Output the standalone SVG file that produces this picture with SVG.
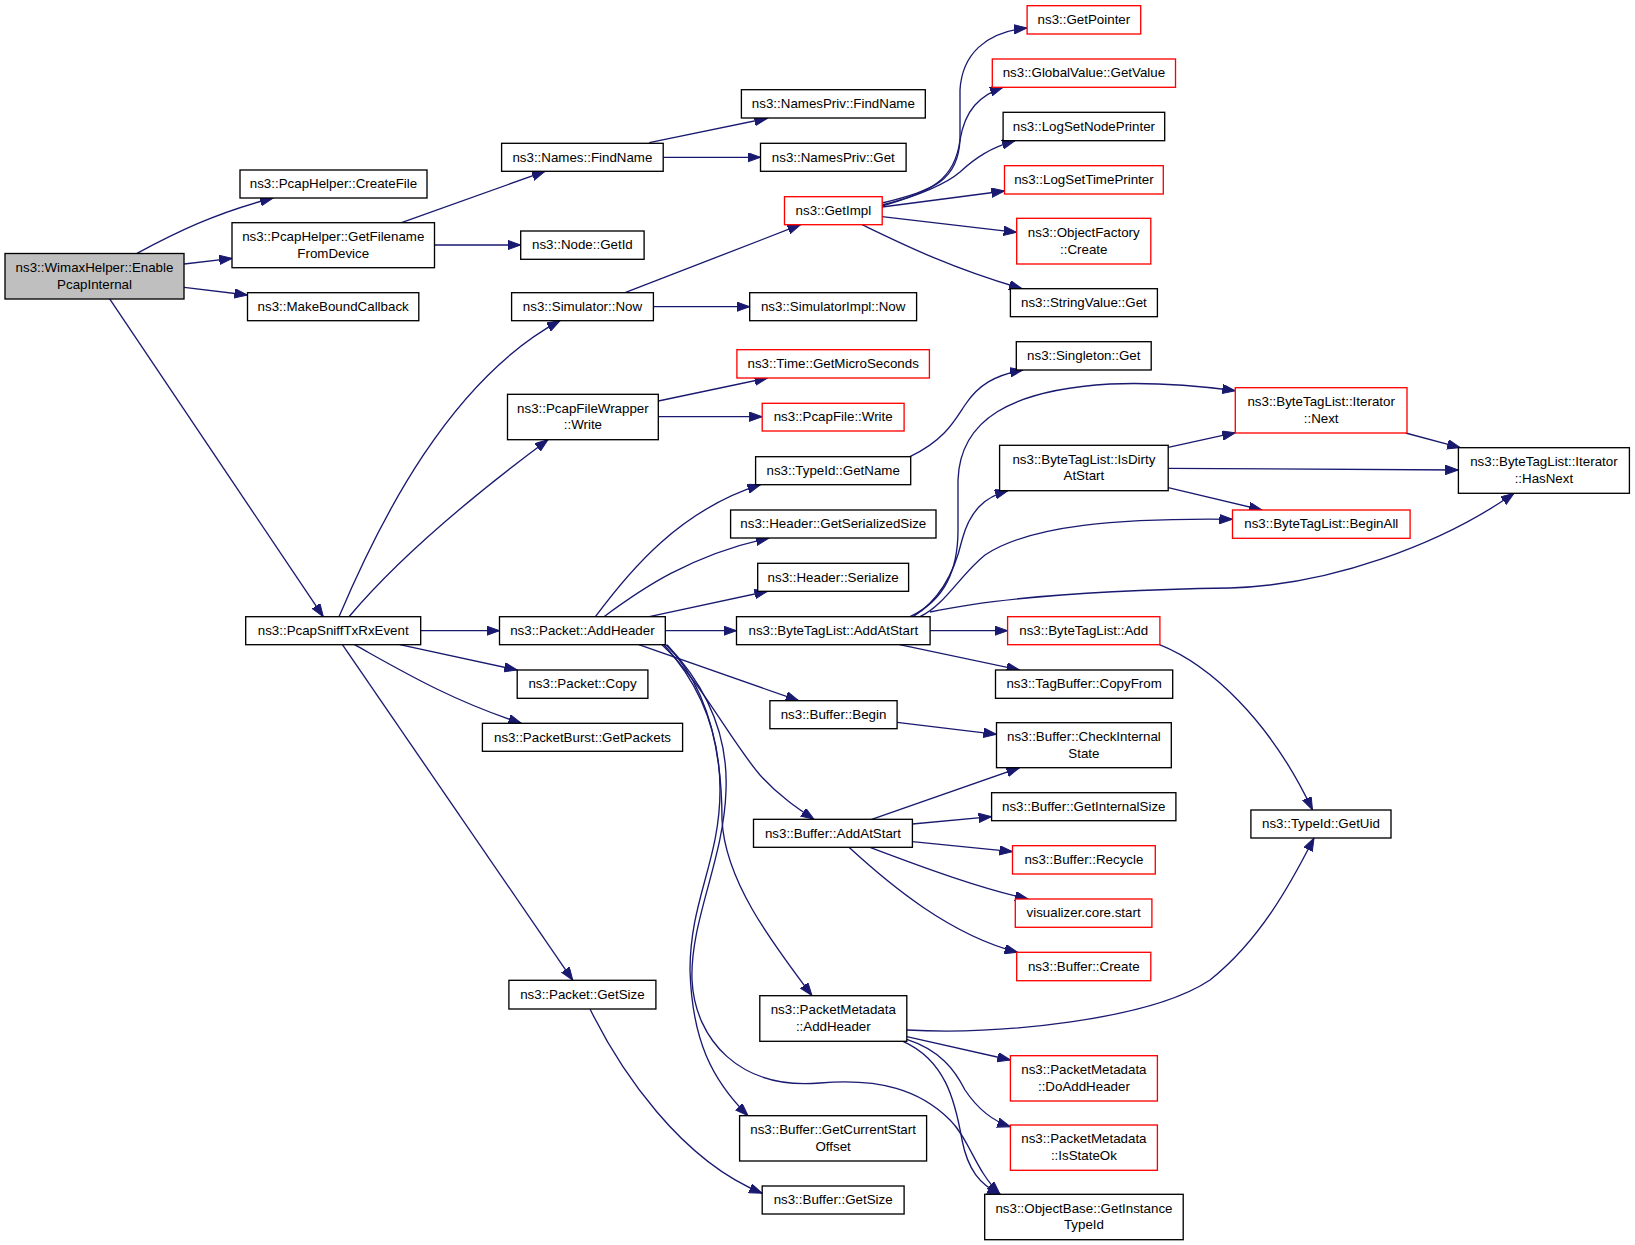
<svg xmlns="http://www.w3.org/2000/svg" width="1635" height="1245" viewBox="0 0 1635 1245">
<style>
.node rect{fill:#ffffff;stroke:#000000;stroke-width:1.33}
.red rect{stroke:#ff0000}
.root rect{fill:#bfbfbf}
text{font-family:"Liberation Sans",Arial,Helvetica,sans-serif;font-size:13.33px;text-anchor:middle;fill:#000000}
.edges path{fill:none;stroke:#191970;stroke-width:1.33;marker-end:url(#ah)}
</style>
<defs>
<marker id="ah" markerUnits="userSpaceOnUse" markerWidth="14" markerHeight="10" refX="13" refY="4.7" orient="auto">
<path d="M0,0 L13,4.7 L0,9.4 z" fill="#191970" stroke="#191970" stroke-width="1"/>
</marker>
</defs>
<rect x="0" y="0" width="1635" height="1245" fill="#ffffff"/>
<g class="edges">
<path d="M137,253.3 C175,233 215,213 273,198"/>
<path d="M184.2,264 L232.2,258.3"/>
<path d="M184.2,287.3 L247.5,295"/>
<path d="M109.5,298.7 L323.3,616.7"/>
<path d="M401.5,222.7 L545,171.3"/>
<path d="M434.5,245 L520.7,245"/>
<path d="M649.3,142.7 L767.5,118.3"/>
<path d="M663.2,157.3 L760.5,157.3"/>
<path d="M625,292.7 L800.5,224.7"/>
<path d="M653.4,306.7 L749.7,306.7"/>
<path d="M882,203 C935,190 958,180 960,140 L960,90 C962,55 985,32 1027,28"/>
<path d="M882,205 C930,193 955,180 960,140 C965,110 980,95 1003,87.3"/>
<path d="M882,206 C920,195 945,185 960,172 C975,158 990,148 1015,140.7"/>
<path d="M882,207 L1004.5,191"/>
<path d="M882,216.7 L1016.7,232.3"/>
<path d="M862,224.7 C900,243 950,268 1022,288.7"/>
<path d="M339,616.7 C380,520 450,380 560,320.7"/>
<path d="M349,616.7 C380,580 440,520 548,439.7"/>
<path d="M658.3,401 L767.5,378"/>
<path d="M658.3,416.7 L762.2,416.7"/>
<path d="M420.6,630.7 L499.5,630.7"/>
<path d="M399.7,644.7 L517.2,670"/>
<path d="M354.5,644.7 C400,670 450,700 521.4,723.3"/>
<path d="M342.4,644.7 L572.8,980.3"/>
<path d="M595.4,616.7 C630,570 680,510 760.5,484.7"/>
<path d="M604,616.7 C640,590 690,555 769,538"/>
<path d="M649.3,616.7 L767.5,591.3"/>
<path d="M665.3,630.7 L736.5,630.7"/>
<path d="M638.8,644.7 L798.7,700.7"/>
<path d="M662,644.7 C700,680 730,740 760,775 C780,797 800,810 814,819.3"/>
<path d="M666,644.7 C712,690 722,760 722,820 C725,880 770,940 812,995.7"/>
<path d="M664,644.7 C705,690 720,740 720,790 C720,860 690,900 690,970 C692,1040 712,1080 748,1115.7"/>
<path d="M667,644.7 C710,690 728,740 726,790 C724,860 690,920 692,980 C695,1040 740,1090 820,1083 C880,1078 920,1090 950,1120 C970,1140 975,1170 1000,1194.3"/>
<path d="M913,616.7 C940,600 955,570 962,540 C970,510 985,497 1008,490.7"/>
<path d="M910,616.7 C945,600 958,570 958,530 L958,480 C960,420 1010,390 1110,384 C1160,382 1200,386 1235.3,390.7"/>
<path d="M920,616.7 C945,605 960,575 985,555 C1030,525 1120,518 1232.5,519.3"/>
<path d="M930,612 C1000,597 1100,590 1230,588 C1330,585 1440,545 1514,493.3"/>
<path d="M930.1,630.7 L1007.6,630.7"/>
<path d="M899.5,644.7 L1019.5,670"/>
<path d="M1168.2,447.3 L1235.3,432.7"/>
<path d="M1168.2,468.3 L1458.4,470"/>
<path d="M1168.2,487.7 L1262,510"/>
<path d="M1405.6,433 L1460.2,447.7"/>
<path d="M1159.5,644.7 C1210,665 1270,720 1312.5,810"/>
<path d="M897.1,722.3 L996.5,734.3"/>
<path d="M871.7,819.3 L1019.5,767.7"/>
<path d="M912.4,824 L991.6,816.7"/>
<path d="M912.4,841.7 L1012.5,851.7"/>
<path d="M870,847.3 C930,870 980,888 1028,899"/>
<path d="M849,847.3 C890,885 950,935 1017.7,952.3"/>
<path d="M906.8,1030 C1000,1035 1150,1020 1210,980 C1260,940 1290,885 1314,838"/>
<path d="M906.8,1036.7 L1010.4,1060"/>
<path d="M906.8,1039.3 C940,1050 955,1070 965,1090 C975,1105 990,1120 1010.4,1126.7"/>
<path d="M903,1041.3 C945,1060 955,1100 962,1140 C968,1170 980,1185 1000.3,1194.3"/>
<path d="M590,1009 C620,1070 680,1160 762.2,1193.3"/>
<path d="M910,456.7 C945,440 955,420 965,405 C978,385 995,375 1023,370"/>
</g>
<g id="n0" class="node root"><rect x="5" y="253.5" width="179" height="45.5"/><text x="94.5" y="272">ns3::WimaxHelper::Enable</text><text x="94.5" y="288.6">PcapInternal</text></g>
<g id="n1" class="node"><rect x="240" y="170" width="187" height="28"/><text x="333.5" y="188.2">ns3::PcapHelper::CreateFile</text></g>
<g id="n2" class="node"><rect x="232" y="222.7" width="202.5" height="45"/><text x="333.25" y="241">ns3::PcapHelper::GetFilename</text><text x="333.25" y="257.6">FromDevice</text></g>
<g id="n3" class="node"><rect x="247.5" y="292.7" width="171.3" height="28"/><text x="333.15" y="310.9">ns3::MakeBoundCallback</text></g>
<g id="n4" class="node"><rect x="245.7" y="616.7" width="175" height="28"/><text x="333.2" y="634.9">ns3::PcapSniffTxRxEvent</text></g>
<g id="n5" class="node"><rect x="501.6" y="143.3" width="161.6" height="28"/><text x="582.4" y="161.5">ns3::Names::FindName</text></g>
<g id="n6" class="node"><rect x="520.7" y="231" width="123.4" height="28.3"/><text x="582.4" y="249.4">ns3::Node::GetId</text></g>
<g id="n7" class="node"><rect x="511.6" y="292.7" width="141.8" height="28"/><text x="582.5" y="310.9">ns3::Simulator::Now</text></g>
<g id="n8" class="node"><rect x="507.5" y="394.3" width="150.8" height="45.4"/><text x="582.9" y="412.8">ns3::PcapFileWrapper</text><text x="582.9" y="429.4">::Write</text></g>
<g id="n9" class="node"><rect x="499.5" y="616.7" width="165.8" height="28"/><text x="582.4" y="634.9">ns3::Packet::AddHeader</text></g>
<g id="n10" class="node"><rect x="517.2" y="670" width="130.7" height="28.3"/><text x="582.55" y="688.4">ns3::Packet::Copy</text></g>
<g id="n11" class="node"><rect x="482.4" y="723.3" width="200.2" height="28"/><text x="582.5" y="741.5">ns3::PacketBurst::GetPackets</text></g>
<g id="n12" class="node"><rect x="508.9" y="980.3" width="147" height="28.7"/><text x="582.4" y="998.9">ns3::Packet::GetSize</text></g>
<g id="n13" class="node"><rect x="741.4" y="89.7" width="183.9" height="28.3"/><text x="833.35" y="108">ns3::NamesPriv::FindName</text></g>
<g id="n14" class="node"><rect x="760.5" y="143.3" width="145.6" height="28"/><text x="833.3" y="161.5">ns3::NamesPriv::Get</text></g>
<g id="n15" class="node red"><rect x="784.5" y="196.7" width="97.7" height="28"/><text x="833.35" y="214.9">ns3::GetImpl</text></g>
<g id="n16" class="node"><rect x="749.7" y="292.7" width="166.9" height="28"/><text x="833.15" y="310.9">ns3::SimulatorImpl::Now</text></g>
<g id="n17" class="node red"><rect x="736.9" y="349.7" width="192.5" height="28.3"/><text x="833.15" y="368">ns3::Time::GetMicroSeconds</text></g>
<g id="n18" class="node red"><rect x="762.2" y="403.3" width="141.9" height="27.7"/><text x="833.15" y="421.4">ns3::PcapFile::Write</text></g>
<g id="n19" class="node"><rect x="755.6" y="456.7" width="155.1" height="28"/><text x="833.15" y="474.9">ns3::TypeId::GetName</text></g>
<g id="n20" class="node"><rect x="730.6" y="510" width="205.4" height="28"/><text x="833.3" y="528.2">ns3::Header::GetSerializedSize</text></g>
<g id="n21" class="node"><rect x="757.7" y="563.3" width="150.9" height="28"/><text x="833.15" y="581.5">ns3::Header::Serialize</text></g>
<g id="n22" class="node"><rect x="736.5" y="616.7" width="193.6" height="28"/><text x="833.3" y="634.9">ns3::ByteTagList::AddAtStart</text></g>
<g id="n23" class="node"><rect x="769.9" y="700.7" width="127.2" height="28"/><text x="833.5" y="718.9">ns3::Buffer::Begin</text></g>
<g id="n24" class="node"><rect x="753.5" y="819.3" width="158.9" height="28"/><text x="832.95" y="837.5">ns3::Buffer::AddAtStart</text></g>
<g id="n25" class="node"><rect x="759.8" y="995.7" width="147" height="45.6"/><text x="833.3" y="1014.3">ns3::PacketMetadata</text><text x="833.3" y="1030.9">::AddHeader</text></g>
<g id="n26" class="node"><rect x="739.6" y="1115.7" width="187" height="45.3"/><text x="833.1" y="1134.1">ns3::Buffer::GetCurrentStart</text><text x="833.1" y="1150.7">Offset</text></g>
<g id="n27" class="node"><rect x="762.2" y="1186" width="141.9" height="28"/><text x="833.15" y="1204.2">ns3::Buffer::GetSize</text></g>
<g id="n28" class="node red"><rect x="1027.1" y="5.7" width="113.6" height="28.3"/><text x="1083.9" y="24">ns3::GetPointer</text></g>
<g id="n29" class="node red"><rect x="992.3" y="59" width="183.2" height="28.3"/><text x="1083.9" y="77.4">ns3::GlobalValue::GetValue</text></g>
<g id="n30" class="node"><rect x="1003.1" y="112.3" width="161.6" height="28.4"/><text x="1083.9" y="130.7">ns3::LogSetNodePrinter</text></g>
<g id="n31" class="node red"><rect x="1004.5" y="165.7" width="158.8" height="28.3"/><text x="1083.9" y="184">ns3::LogSetTimePrinter</text></g>
<g id="n32" class="node red"><rect x="1016.7" y="218.3" width="134.1" height="45.7"/><text x="1083.75" y="236.9">ns3::ObjectFactory</text><text x="1083.75" y="253.5">::Create</text></g>
<g id="n33" class="node"><rect x="1010.4" y="288.7" width="147" height="28"/><text x="1083.9" y="306.9">ns3::StringValue::Get</text></g>
<g id="n34" class="node"><rect x="1016.3" y="341.7" width="134.9" height="28.3"/><text x="1083.75" y="360">ns3::Singleton::Get</text></g>
<g id="n35" class="node"><rect x="999.6" y="445.3" width="168.6" height="45.4"/><text x="1083.9" y="463.8">ns3::ByteTagList::IsDirty</text><text x="1083.9" y="480.4">AtStart</text></g>
<g id="n36" class="node red"><rect x="1007.6" y="616.7" width="152.3" height="28"/><text x="1083.75" y="634.9">ns3::ByteTagList::Add</text></g>
<g id="n37" class="node"><rect x="995.5" y="670" width="177.2" height="28.3"/><text x="1084.1" y="688.4">ns3::TagBuffer::CopyFrom</text></g>
<g id="n38" class="node"><rect x="996.5" y="722.7" width="174.8" height="45"/><text x="1083.9" y="741">ns3::Buffer::CheckInternal</text><text x="1083.9" y="757.6">State</text></g>
<g id="n39" class="node"><rect x="991.6" y="792.7" width="184.3" height="28"/><text x="1083.75" y="810.9">ns3::Buffer::GetInternalSize</text></g>
<g id="n40" class="node red"><rect x="1012.5" y="845.7" width="142.8" height="28.3"/><text x="1083.9" y="864">ns3::Buffer::Recycle</text></g>
<g id="n41" class="node red"><rect x="1015.3" y="899" width="136.6" height="28.3"/><text x="1083.6" y="917.4">visualizer.core.start</text></g>
<g id="n42" class="node red"><rect x="1016.7" y="952.3" width="134.1" height="28.4"/><text x="1083.75" y="970.7">ns3::Buffer::Create</text></g>
<g id="n43" class="node red"><rect x="1010.4" y="1055.7" width="147" height="45.3"/><text x="1083.9" y="1074.1">ns3::PacketMetadata</text><text x="1083.9" y="1090.7">::DoAddHeader</text></g>
<g id="n44" class="node red"><rect x="1010.4" y="1125" width="147" height="45.3"/><text x="1083.9" y="1143.4">ns3::PacketMetadata</text><text x="1083.9" y="1160">::IsStateOk</text></g>
<g id="n45" class="node"><rect x="984.7" y="1194.3" width="198.5" height="45.4"/><text x="1083.95" y="1212.8">ns3::ObjectBase::GetInstance</text><text x="1083.95" y="1229.4">TypeId</text></g>
<g id="n46" class="node red"><rect x="1235.3" y="387.7" width="171.7" height="45.3"/><text x="1321.15" y="406.1">ns3::ByteTagList::Iterator</text><text x="1321.15" y="422.7">::Next</text></g>
<g id="n47" class="node red"><rect x="1232.5" y="510" width="177.6" height="28.3"/><text x="1321.3" y="528.4">ns3::ByteTagList::BeginAll</text></g>
<g id="n48" class="node"><rect x="1250.9" y="810" width="140.1" height="28"/><text x="1320.95" y="828.2">ns3::TypeId::GetUid</text></g>
<g id="n49" class="node"><rect x="1458.4" y="447.7" width="171" height="45.6"/><text x="1543.9" y="466.3">ns3::ByteTagList::Iterator</text><text x="1543.9" y="482.9">::HasNext</text></g>
</svg>
